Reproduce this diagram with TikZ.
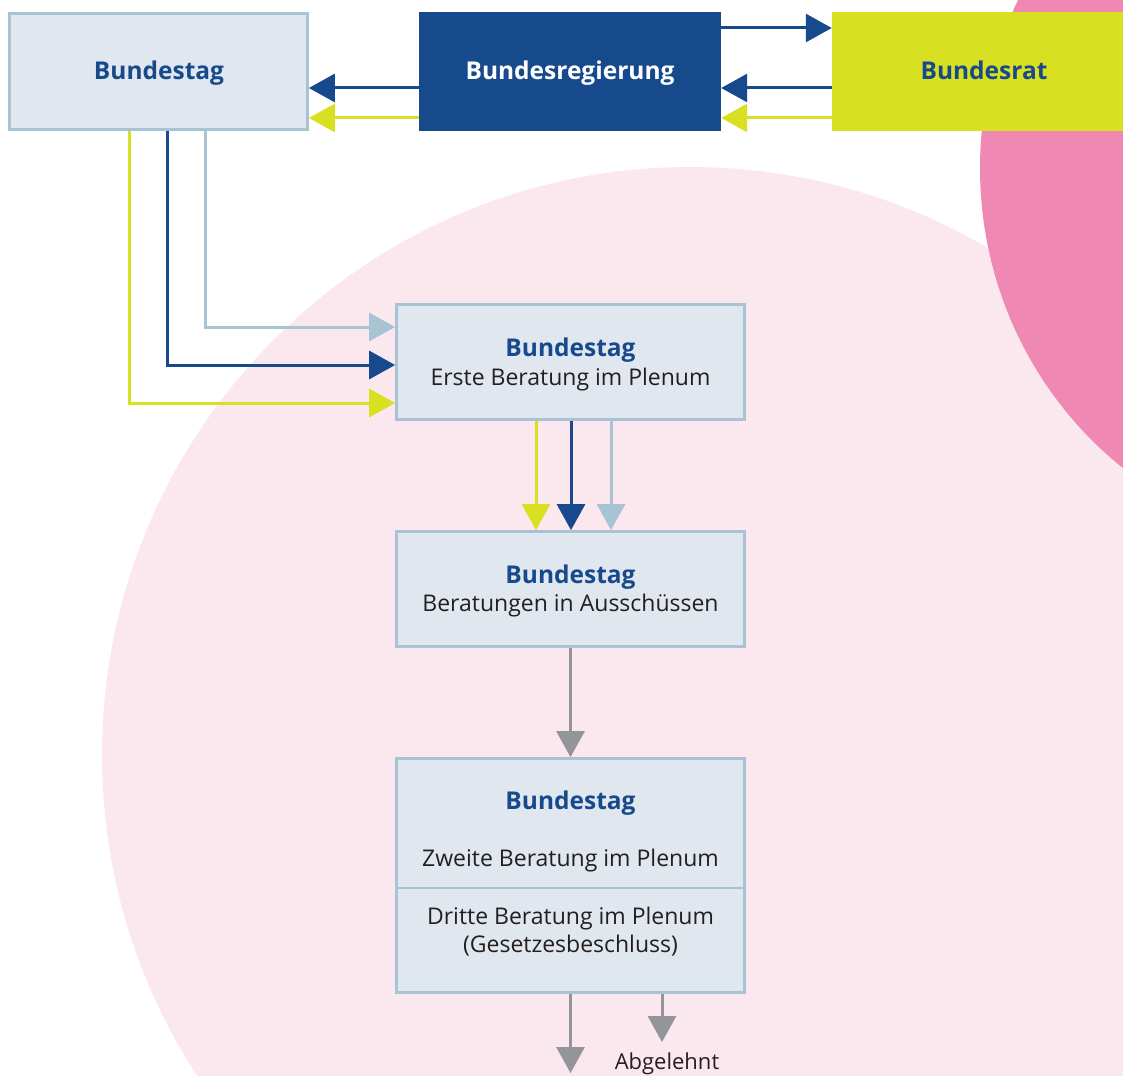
\documentclass[tikz,border=0pt]{standalone}
\usepackage{fontspec}
\setmainfont{Open Sans}
\usetikzlibrary{arrows.meta}
\definecolor{dblue}{HTML}{174A8C}
\definecolor{lblue}{HTML}{A7C3D4}
\definecolor{boxfill}{HTML}{E1E7EE}
\definecolor{ygreen}{HTML}{D8E021}
\definecolor{lpink}{HTML}{FBE8EF}
\definecolor{pinkc}{HTML}{F088B4}
\definecolor{greyc}{HTML}{939598}
\definecolor{txt}{HTML}{231F20}
\begin{document}
\begin{tikzpicture}[x=1pt,y=-1pt,
  lbox/.style={draw=lblue, line width=2.7pt, fill=boxfill, inner sep=0pt},
  topbox/.style={inner sep=0pt, minimum width=302pt, minimum height=119pt},
  conn/.style={line width=3pt, -{Triangle[length=26pt,width=28pt]}},
  ttl/.style={text=dblue, anchor=base, inner sep=0pt, font=\fontsize{24.5}{29}\selectfont\bfseries},
  plain/.style={text=txt, anchor=base, inner sep=0pt, font=\fontsize{23}{29}\selectfont}
]
\useasboundingbox (0,0) rectangle (1123,1075);
\clip (0,0) rectangle (1123,1075);
% background shapes
\fill[lpink] (690,755) circle [radius=588pt];
\fill[pinkc] (1350,168) ellipse [x radius=370pt, y radius=380pt];
% top row
\node[lbox, minimum width=298pt, minimum height=116pt] (BT) at (158.5,71.5) {};
\node[topbox, fill=dblue] (BReg) at (570,71.5) {};
\node[topbox, fill=ygreen, minimum width=304pt] (BR) at (984,71.5) {};
\node[ttl] (BTt) at (159,80) {Bundestag};
\node[ttl, text=white] (BRegt) at (570,80) {Bundesregierung};
\node[ttl] (BRt) at (984,80) {Bundesrat};
% main boxes
\node[lbox, minimum width=348pt, minimum height=115pt] (B1) at (570.5,362) {};
\node[ttl] (B1t) at (570.5,356) {Bundestag};
\node[plain] (B1a) at (570.5,385) {Erste Beratung im Plenum};
\node[lbox, minimum width=348pt, minimum height=115pt] (B2) at (570.5,589) {};
\node[ttl] (B2t) at (570.5,583) {Bundestag};
\node[plain] (B2a) at (570.5,611) {Beratungen in Ausschüssen};
\node[lbox, minimum width=348pt, minimum height=234pt] (B3) at (570.5,875.5) {};
\draw[lblue, line width=2.7pt] (B3.west |- 0,888) -- (B3.east |- 0,888);
\node[ttl] (B3t) at (570.5,809) {Bundestag};
\node[plain] (B3a) at (570.5,866) {Zweite Beratung im Plenum};
\node[plain] (B3b) at (570.5,924) {Dritte Beratung im Plenum};
\node[plain] (B3c) at (570.5,952) {(Gesetzesbeschluss)};
% top connectors
\draw[conn, dblue] (BReg.east |- 0,28) -- (BR.west |- 0,28);
\draw[conn, dblue] (BR.west |- 0,88) -- (BReg.east |- 0,88);
\draw[conn, ygreen] (BR.west |- 0,118) -- (BReg.east |- 0,118);
\draw[conn, dblue] (BReg.west |- 0,88) -- (BT.east |- 0,88);
\draw[conn, ygreen] (BReg.west |- 0,118) -- (BT.east |- 0,118);
% Bundestag to first reading
\draw[conn, ygreen] (BT.south -| 129,0) |- (B1.west |- 0,403);
\draw[conn, dblue] (BT.south -| 167,0) |- (B1.west |- 0,365);
\draw[conn, lblue] (BT.south -| 205,0) |- (B1.west |- 0,327);
% first reading to committees
\draw[conn, ygreen] (B1.south -| 536,0) -- (B2.north -| 536,0);
\draw[conn, dblue] (B1.south -| 571,0) -- (B2.north -| 571,0);
\draw[conn, lblue] (B1.south -| 611,0) -- (B2.north -| 611,0);
% grey flow
\draw[conn, greyc] (B2.south) -- (B3.north);
\coordinate (endA) at (570.5,1073);
\draw[conn, greyc] (B3.south) -- (endA);
\node[text=txt, anchor=base, inner sep=0pt, font=\fontsize{22}{26}\selectfont] (abg) at (667,1069) {Abgelehnt};
\coordinate (endB) at (662,1042);
\draw[conn, greyc] (B3.south -| endB) -- (endB);
\end{tikzpicture}
\end{document}
